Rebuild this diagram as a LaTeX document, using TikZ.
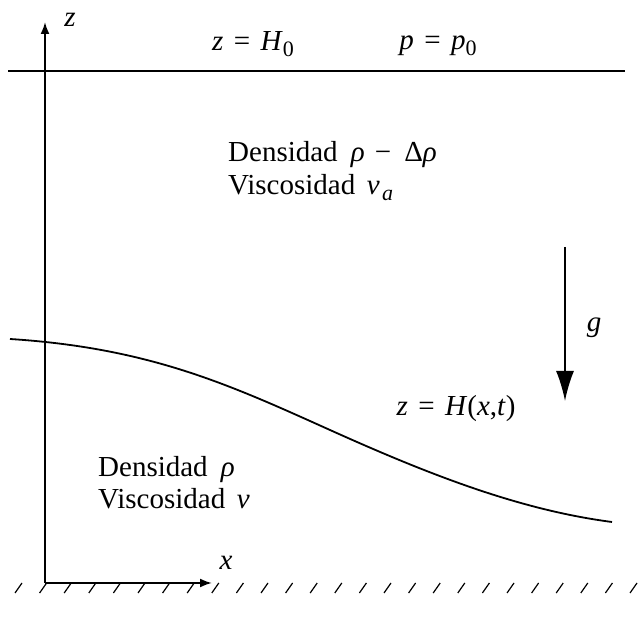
\documentclass[tikz,border=0pt]{standalone}
\usepackage{fontspec}
\setmainfont{Liberation Serif}
\usetikzlibrary{arrows.meta}
\newcommand{\mi}[1]{\textit{#1}}
\newcommand{\sbs}[1]{\raisebox{-0.4ex}{\fontsize{22}{24}\selectfont #1}}
\newcommand{\eqs}{\hspace{0.36em}=\hspace{0.36em}}
\begin{document}
\begin{tikzpicture}[x=1pt,y=1pt,
  lbl/.style={inner sep=0pt, font=\fontsize{29}{34}\selectfont},
  axisline/.style={line width=2pt},
  thinline/.style={line width=1.8pt},
  hatchmark/.style={line width=1.2pt}]
\useasboundingbox (0,0) rectangle (639,620);
% axes
\coordinate (O) at (45,37);
\coordinate (ztip) at (45,598);
\coordinate (xtip) at (212,37);
\draw[axisline,-{Latex[length=12pt,width=9pt]}] (O) -- (ztip);
\draw[axisline,-{Latex[length=12pt,width=9pt]}] (O) -- (xtip);
\node[lbl] (zl) at (70,600) {\mi{z}};
\node[lbl] (xl) at (226,57) {\mi{x}};
% ground hatch
\foreach \k in {0,...,25} {
  \draw[hatchmark] ({22+24.6*\k},37) -- ({15+24.6*\k},27);
}
% top surface
\coordinate (tl) at (8,549);
\coordinate (tr) at (625,549);
\draw[thinline] (tl) -- (tr);
\node[lbl] (h0) at (253,576) {\mi{z}\eqs\mi{H}\sbs{0}};
\node[lbl] (p0) at (438,574) {\mi{p}\eqs\mi{p}\sbs{0}};
% upper fluid
\node[lbl,anchor=base west] (d1) at (228,458) {Densidad\hspace{0.45em}\mi{ρ}\hspace{0.35em}−\hspace{0.45em}Δ\mi{ρ}};
\node[lbl,anchor=base west] (v1) at (228,425) {Viscosidad\hspace{0.4em}\mi{ν}\hspace{0.08em}\sbs{\mi{a}}};
% gravity
\coordinate (gs) at (565,373);
\coordinate (ge) at (565,219);
\draw[thinline,-{Latex[length=30pt,width=18pt]}] (gs) -- (ge);
\node[lbl] (gl) at (594,292) {\mi{g}};
% interface
\coordinate (il) at (10,281);
\coordinate (im) at (330,190);
\coordinate (ir) at (612,98);
\draw[thinline] (il) .. controls (150,272) and (230,235) .. (im)
                     .. controls (430,145) and (520,110) .. (ir);
\node[lbl] (hx) at (456,211) {\mi{z}\eqs\mi{H}(\mi{x},\mi{t})};
% lower fluid
\node[lbl,anchor=base west] (d2) at (98,143) {Densidad\hspace{0.45em}\mi{ρ}};
\node[lbl,anchor=base west] (v2) at (98,111) {Viscosidad\hspace{0.4em}\mi{ν}};
\end{tikzpicture}
\end{document}
